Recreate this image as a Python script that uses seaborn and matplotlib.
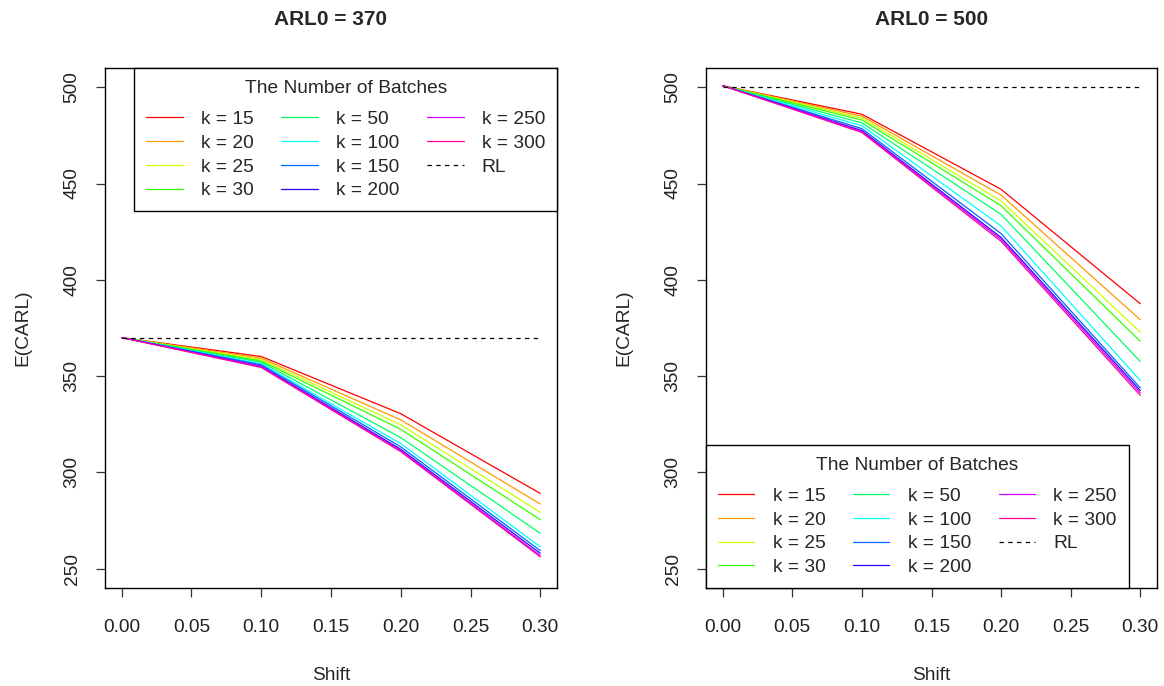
import numpy as np
import pandas as pd
import matplotlib
matplotlib.use("Agg")
import matplotlib.pyplot as plt
import seaborn as sns

# ---- data ----
shifts = [0.00, 0.10, 0.20, 0.30]
k_labels = ["k = 15", "k = 20", "k = 25", "k = 30", "k = 50",
            "k = 100", "k = 150", "k = 200", "k = 250", "k = 300"]
colors = ["#FF0000", "#FF9900", "#CCFF00", "#33FF00", "#00FF66",
          "#00FFFF", "#0066FF", "#3300FF", "#CC00FF", "#FF0099"]

arl370_s000 = [370.0] * 10
arl370_s010 = [360.2, 359.3, 358.6, 357.9, 357.2, 356.4, 355.9, 355.2, 354.9, 354.5]
arl370_s020 = [330.5, 327.3, 324.7, 322.4, 318.1, 315.0, 313.3, 312.0, 311.3, 310.8]
arl370_s030 = [289.1, 283.6, 279.3, 275.5, 268.4, 261.4, 259.4, 258.0, 256.8, 256.2]

arl500_s000 = [500.8] * 10
arl500_s010 = [486.0, 485.0, 484.0, 483.0, 481.5, 480.0, 478.5, 477.5, 477.0, 476.5]
arl500_s020 = [447.0, 444.0, 441.0, 438.5, 434.0, 428.0, 424.0, 422.0, 421.0, 420.0]
arl500_s030 = [387.6, 379.3, 372.8, 368.1, 357.6, 347.7, 343.9, 342.5, 341.3, 340.0]

panels = [
    ("ARL0 = 370", 370, [arl370_s000, arl370_s010, arl370_s020, arl370_s030]),
    ("ARL0 = 500", 500, [arl500_s000, arl500_s010, arl500_s020, arl500_s030]),
]

sns.set_style("white")
plt.rcParams["font.family"] = ["Liberation Sans", "DejaVu Sans"]
plt.rcParams["axes.edgecolor"] = "black"
plt.rcParams["axes.linewidth"] = 1.0

fig = plt.figure(figsize=(11.64, 6.86), dpi=100)
W, H = 1164, 686
axes = [
    fig.add_axes([105 / W, 1 - 588 / H, (557 - 105) / W, (588 - 68) / H]),
    fig.add_axes([706 / W, 1 - 588 / H, (1157 - 706) / W, (588 - 68) / H]),
]

fs = 13.8
for idx, (ax, (title, rl, cols)) in enumerate(zip(axes, panels)):
    rows = []
    for si, s in enumerate(shifts):
        for ki, lab in enumerate(k_labels):
            rows.append({"Shift": s, "ECARL": cols[si][ki], "k": lab})
    df = pd.DataFrame(rows)
    sns.lineplot(data=df, x="Shift", y="ECARL", hue="k", hue_order=k_labels,
                 palette=colors, linewidth=0.9, ax=ax, legend=False,
                 estimator=None, sort=False)
    rl_df = pd.DataFrame({"Shift": [shifts[0], shifts[-1]], "ECARL": [rl, rl]})
    sns.lineplot(data=rl_df, x="Shift", y="ECARL", color="black", linewidth=0.9,
                 linestyle=(0, (3.5, 3.5)), ax=ax, legend=False)

    ax.set_xlim(-0.012, 0.312)
    ax.set_ylim(240, 510)
    ax.set_xticks([0.00, 0.05, 0.10, 0.15, 0.20, 0.25, 0.30])
    ax.set_xticklabels(["0.00", "0.05", "0.10", "0.15", "0.20", "0.25", "0.30"])
    ax.set_yticks([250, 300, 350, 400, 450, 500])
    ax.set_yticklabels(["250", "300", "350", "400", "450", "500"],
                       rotation=90, va="center")
    ax.tick_params(axis="both", direction="out", length=6.5, width=0.9,
                   labelsize=fs, color="#333333", labelcolor="#222222",
                   bottom=True, left=True)
    ax.tick_params(axis="x", pad=16)
    ax.tick_params(axis="y", pad=11)
    for sp in ax.spines.values():
        sp.set_visible(True)
        sp.set_color("black")
        sp.set_linewidth(1.0)
    ax.set_xlabel("Shift", fontsize=fs, labelpad=22)
    ax.set_ylabel("E(CARL)", fontsize=fs, labelpad=23.5)
    ax.set_title(title, fontsize=15, fontweight="bold", pad=31)

    lines = ax.get_lines()
    handles = list(lines[:10]) + [lines[10]]
    labels = k_labels + ["RL"]
    if idx == 0:
        loc, anchor = "upper right", (1.0, 1.0)
    else:
        loc, anchor = "lower left", (0.0, 0.0)
    leg = ax.legend(handles, labels, title="The Number of Batches", ncol=3,
                    loc=loc, bbox_to_anchor=anchor, borderaxespad=0,
                    fontsize=fs, title_fontsize=fs, frameon=True,
                    fancybox=False, framealpha=1, edgecolor="black",
                    handlelength=1.9, handletextpad=0.95, columnspacing=1.45,
                    labelspacing=0.33, borderpad=0.62)
    leg.get_frame().set_linewidth(1.0)
    leg._legend_box.sep = 10.0

fig.savefig("out.png", dpi=100, facecolor="white")
